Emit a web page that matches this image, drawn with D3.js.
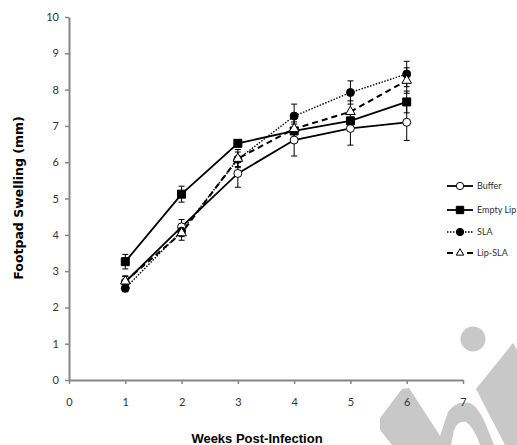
<!DOCTYPE html>
<html>
<head>
<meta charset="utf-8">
<script src="https://cdn.jsdelivr.net/npm/d3@7"></script>
<style>
  body { margin: 0; background: #fff; }
  svg { display: block; }
</style>
</head>
<body>
<svg id="chart" width="517" height="445"></svg>
<script>
const weeks = [1, 2, 3, 4, 5, 6]
const buffer = [2.7, 4.22, 5.69, 6.61, 6.93, 7.1]
const bufferErr = [0.15, 0.2, 0.38, 0.44, 0.46, 0.5]
const emptyLip = [3.26, 5.12, 6.52, 6.86, 7.14, 7.66]
const emptyLipErr = [0.2, 0.22, 0.1, 0.25, 0.25, 0.3]
const sla = [2.53, 4.1, 6.08, 7.27, 7.92, 8.43]
const slaErr = [0.1, 0.15, 0.2, 0.33, 0.32, 0.35]
const lipSla = [2.72, 4.05, 6.1, 6.92, 7.39, 8.25]
const lipSlaErr = [0.15, 0.2, 0.25, 0.3, 0.3, 0.35]
const seriesNames = ['Buffer', 'Empty Lip', 'SLA', 'Lip-SLA']
const xTicks = [0, 1, 2, 3, 4, 5, 6, 7]
const yTicks = [0, 1, 2, 3, 4, 5, 6, 7, 8, 9, 10]

const series = [
  { name: seriesNames[0], values: buffer, err: bufferErr, marker: 'circle', fill: '#fff', dash: null, width: 1.8 },
  { name: seriesNames[1], values: emptyLip, err: emptyLipErr, marker: 'square', fill: '#000', dash: null, width: 1.8 },
  { name: seriesNames[2], values: sla, err: slaErr, marker: 'circle', fill: '#000', dash: '1.5,1.5', width: 1.4 },
  { name: seriesNames[3], values: lipSla, err: lipSlaErr, marker: 'triangle', fill: '#fff', dash: '6,4', width: 2 }
]

const svg = d3.select('#chart')
const margin = {top: 17, right: 54, bottom: 65, left: 69}
const width = 517, height = 445

const x = d3.scaleLinear().domain([0, 7]).range([margin.left, width - margin.right])
const y = d3.scaleLinear().domain([0, 10]).range([height - margin.bottom, margin.top])

// watermark (decoration behind the axes)
const wm = svg.append('g').attr('fill', '#c8c8c8')
wm.append('circle').attr('cx', 473).attr('cy', 339).attr('r', 12.5)
wm.append('path').attr('d', 'M380,418 L402,389 L409,388 L446,445 L392,445 L380,430 Z')
wm.append('path').attr('d', 'M437,445 L448,412 Q456,400 470,403 Q480,408 488,430 L494,445 L480,445 Q474,427 466,422 Q458,420 454,430 L451,445 Z')
wm.append('path').attr('d', 'M476,389 L513,343 L517,350 L517,445 L505,445 Z')

// axes
const axisColor = '#868686'
const gx = svg.append('g')
  .attr('transform', `translate(0,${y(0)})`)
  .call(d3.axisBottom(x).tickValues(xTicks).tickFormat(d3.format('d')).tickSize(4).tickPadding(14).tickSizeOuter(0))
const gy = svg.append('g')
  .attr('transform', `translate(${x(0)},0)`)
  .call(d3.axisLeft(y).tickValues(yTicks).tickFormat(d3.format('d')).tickSize(4).tickPadding(6).tickSizeOuter(0))
for (const g of [gx, gy]) {
  g.select('.domain').attr('stroke', axisColor).attr('stroke-width', 2)
  g.selectAll('.tick line').attr('stroke', axisColor).attr('stroke-width', 1.5)
  g.selectAll('.tick text').attr('fill', '#333').style('font', '11px Lato, "Liberation Sans", sans-serif')
}

// lines
const line = d3.line().x((d, i) => x(weeks[i])).y(d => y(d))
svg.append('g').selectAll('path')
  .data(series)
  .join('path')
    .attr('fill', 'none')
    .attr('stroke', '#000')
    .attr('stroke-width', d => d.width)
    .attr('stroke-dasharray', d => d.dash)
    .attr('d', d => line(d.values))

// error bars
const eb = svg.append('g').attr('stroke', '#000').attr('stroke-width', 1)
series.forEach(s => {
  s.values.forEach((v, i) => {
    const cx = x(weeks[i])
    const y0 = y(v - s.err[i]), y1 = y(v + s.err[i])
    eb.append('line').attr('x1', cx).attr('x2', cx).attr('y1', y0).attr('y2', y1)
    eb.append('line').attr('x1', cx - 3).attr('x2', cx + 3).attr('y1', y0).attr('y2', y0)
    eb.append('line').attr('x1', cx - 3).attr('x2', cx + 3).attr('y1', y1).attr('y2', y1)
  })
})

// markers
const sym = { circle: d3.symbolCircle, square: d3.symbolSquare, triangle: d3.symbolTriangle }
function drawMarker(g, s, px, py, k) {
  const size = { circle: 50, square: 64, triangle: 40 }[s.marker] * k
  g.append('path')
    .attr('d', d3.symbol(sym[s.marker], size)())
    .attr('transform', `translate(${px},${py})`)
    .attr('fill', s.fill)
    .attr('stroke', '#000')
    .attr('stroke-width', 1)
}
const gm = svg.append('g')
series.forEach(s => {
  s.values.forEach((v, i) => drawMarker(gm, s, x(weeks[i]), y(v), 1))
})

// legend
const legendY = [186, 210, 232, 253]
const lg = svg.append('g')
series.forEach((s, i) => {
  const ly = legendY[i]
  lg.append('line')
    .attr('x1', 447).attr('x2', 473).attr('y1', ly).attr('y2', ly)
    .attr('stroke', '#000').attr('stroke-width', s.width)
    .attr('stroke-dasharray', s.dash)
  drawMarker(lg, s, 460, ly, s.marker === 'triangle' ? 0.6 : 0.85)
  lg.append('text')
    .attr('x', 477).attr('y', ly + 3)
    .attr('fill', '#303030')
    .style('font', '9px Lato, "Liberation Sans", sans-serif')
    .text(s.name)
})

// axis titles
svg.append('text')
  .attr('transform', `translate(23,198) rotate(-90)`)
  .attr('text-anchor', 'middle')
  .style('font', 'bold 12.5px "DejaVu Sans", sans-serif')
  .text('Footpad Swelling (mm)')
svg.append('text')
  .attr('x', 257).attr('y', 443)
  .attr('text-anchor', 'middle')
  .style('font', 'bold 13px "Liberation Sans", sans-serif')
  .text('Weeks Post-Infection')
</script>
</body>
</html>
